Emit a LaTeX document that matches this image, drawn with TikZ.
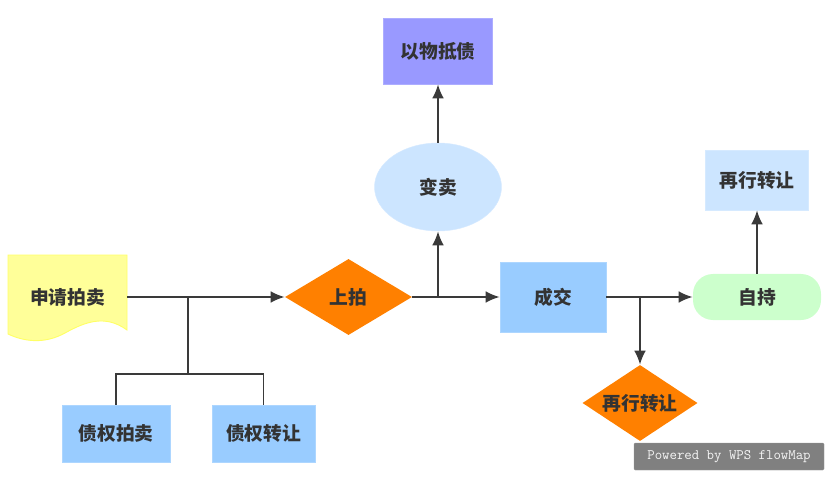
\documentclass[tikz,border=0pt]{standalone}
\usepackage{fontspec}
\setmainfont{Noto Sans CJK SC}
\usepackage{xcolor}
\usepackage{tikz}
\usetikzlibrary{shapes.geometric}
\usetikzlibrary{arrows.meta}

\definecolor{linegray}{HTML}{3A3A3A}
\definecolor{textgray}{HTML}{333333}
\definecolor{paleyellow}{HTML}{FFFF99}
\definecolor{edgeyellow}{HTML}{FFFF66}
\definecolor{skyblue}{HTML}{99CCFF}
\definecolor{paleblue}{HTML}{CCE5FF}
\definecolor{lavender}{HTML}{9999FF}
\definecolor{palegreen}{HTML}{CCFFCC}
\definecolor{wpsorange}{HTML}{FF8000}

\tikzset{
	label/.style={font=\bfseries\fontsize{16}{18}\selectfont, text=textgray, inner sep=0pt},
	box/.style={label, rectangle, fill=#1, draw=#1!80!white},
	decision/.style={label, diamond, fill=wpsorange, aspect=1.67},
	flow/.style={draw=linegray, line width=1.7pt, -{Latex[length=12pt,width=10pt]}},
	link/.style={draw=linegray, line width=1.7pt}
}

\begin{document}
\begin{tikzpicture}[x=0.03cm, y=-0.03cm]
		\useasboundingbox (0,0) rectangle (834,481);

		% document shape
		\filldraw[fill=paleyellow, draw=edgeyellow, line width=0.8pt] (8,255) -- (127,255) -- (127,330)
			.. controls (105,314) and (85,322) .. (65,333)
			.. controls (45,344) and (25,342) .. (8,334) -- cycle;
		\node[label, minimum width=3.57cm] (apply) at (67.5,297) {申请拍卖};

		\node[decision, minimum width=3.81cm, minimum height=2.28cm] (bid) at (348.5,297) {上拍};
		\node[label, ellipse, fill=paleblue, draw=paleblue!80!white, minimum width=3.81cm, minimum height=2.64cm] (sale) at (438,187) {变卖};
		\node[box=lavender, minimum width=3.27cm, minimum height=1.98cm] (offset) at (438,51) {以物抵债};
		\node[box=skyblue, minimum width=3.18cm, minimum height=2.1cm] (deal) at (553,297) {成交};
		\node[label, rectangle, rounded corners=0.6cm, fill=palegreen, minimum width=3.84cm, minimum height=1.38cm] (hold) at (757,297) {自持};
		\node[box=paleblue, minimum width=3.09cm, minimum height=1.8cm] (retrans) at (757,180) {再行转让};
		\node[decision, minimum width=3.45cm, minimum height=2.28cm] (retransd) at (640,403) {再行转让};
		\node[box=skyblue, minimum width=3.24cm, minimum height=1.71cm] (credauc) at (116,433.5) {债权拍卖};
		\node[box=skyblue, minimum width=3.09cm, minimum height=1.71cm] (credtrans) at (263.5,433.5) {债权转让};

		\coordinate (j1) at (188,297);
		\coordinate (j2) at (188,374);
		\coordinate (j3) at (438,297);
		\coordinate (j4) at (640,297);

		\draw[flow] (apply.east) -- (bid.west);
		\draw[link] (j1) -- (j2);
		\draw[link] (credauc.north) |- (j2) -| (credtrans.north);
		\draw[flow] (bid.east) -- (deal.west);
		\draw[flow] (j3) -- (sale.south);
		\draw[flow] (sale.north) -- (offset.south);
		\draw[flow] (deal.east) -- (hold.west);
		\draw[flow] (j4) -- (retransd.north);
		\draw[flow] (hold.north) -- (retrans.south);

		\node[rectangle, fill=gray, draw=gray!80!white, rounded corners=1pt, minimum width=5.7cm, minimum height=0.81cm, text=white!92!gray, font=\ttfamily\fontsize{12.3}{13}\selectfont] (wps) at (729,456.5) {Powered by WPS flowMap};
	\end{tikzpicture}
\end{document}
